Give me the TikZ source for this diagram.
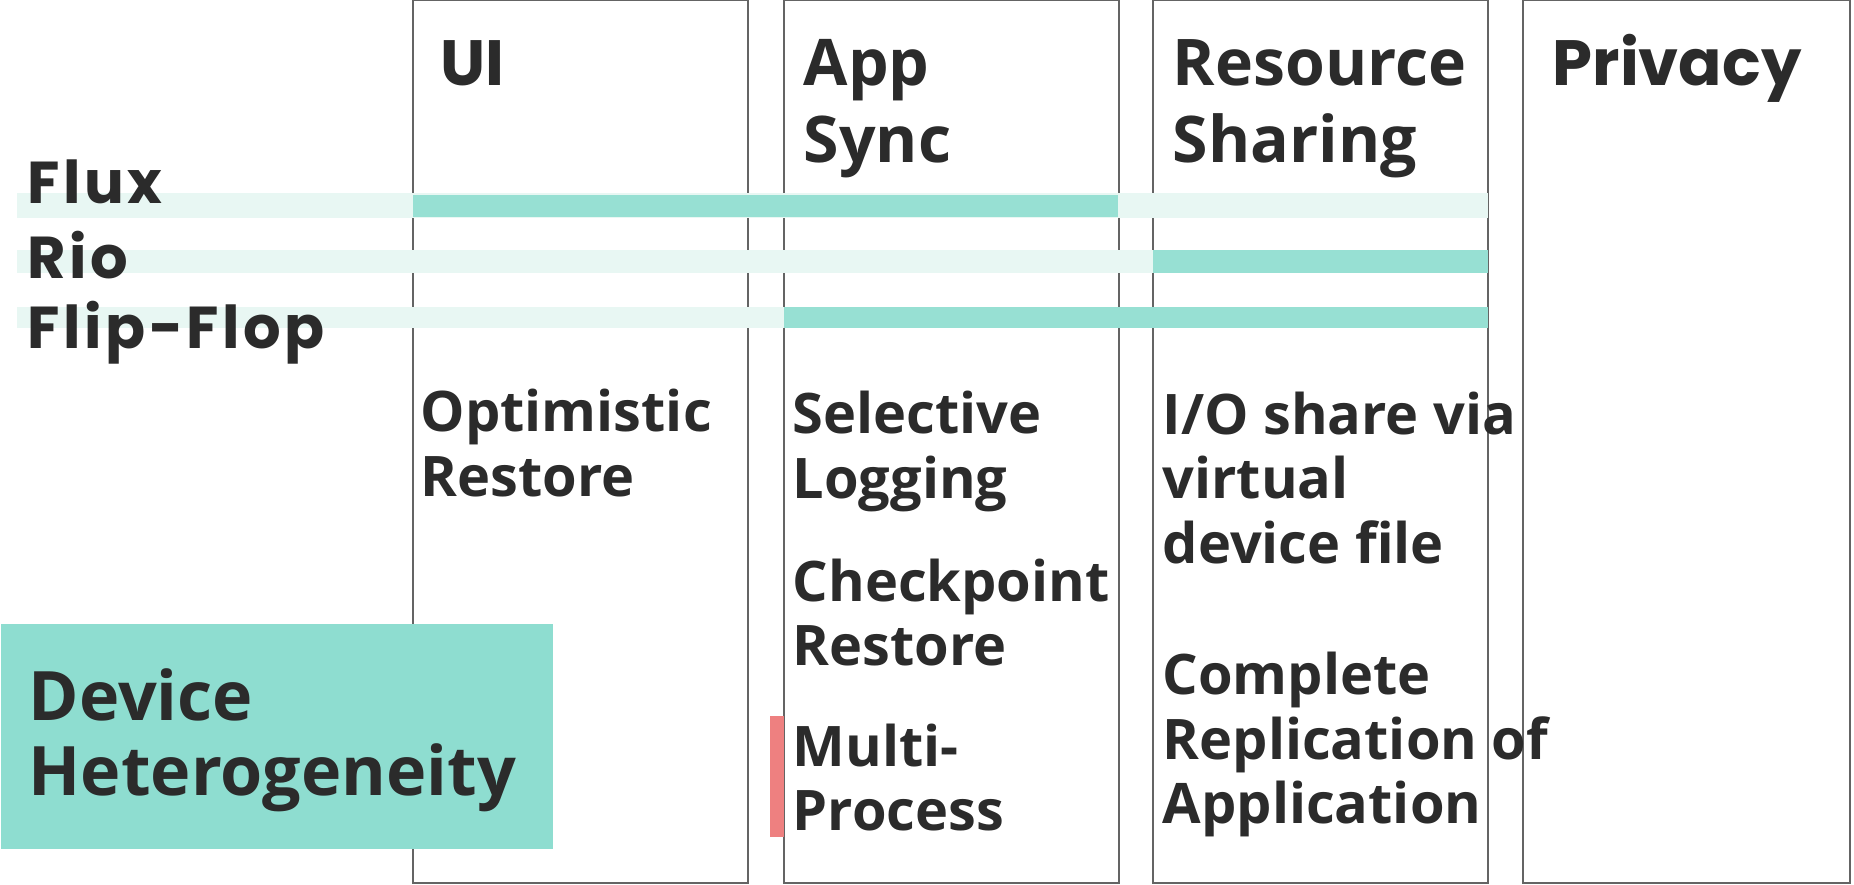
\documentclass[tikz,border=0pt]{standalone}
\usepackage{fontspec}
\setmainfont{Open Sans}
\newfontfamily\geofont{Poppins}
\usepackage{tikz}
\usetikzlibrary{positioning}
\definecolor{tealbar}{RGB}{151,224,211}
\definecolor{tealbox}{RGB}{142,221,208}
\definecolor{tealpale}{RGB}{232,247,243}
\definecolor{redmark}{RGB}{238,128,128}
\definecolor{inkgray}{RGB}{43,43,43}
\definecolor{framegray}{RGB}{100,100,100}

\begin{document}
\begin{tikzpicture}[
      x=0.01cm, y=-0.01cm,
      column/.style={draw=framegray, line width=0.5pt, anchor=north west,
                     inner sep=0pt, outer sep=0pt,
                     minimum width=3.35cm, minimum height=8.82cm},
      hdr/.style={anchor=base west, align=left, inner sep=0pt, text=inkgray,
                  font=\fontsize{18.3}{21.9}\selectfont\bfseries},
      geohdr/.style={anchor=base west, inner sep=0pt, text=inkgray,
                  font=\geofont\fontsize{18.2}{22}\selectfont\bfseries},
      rowlabel/.style={anchor=base west, inner sep=0pt, text=inkgray,
                  font=\geofont\fontsize{16.8}{19}\selectfont\bfseries\addfontfeature{LetterSpace=6}},
      item/.style={anchor=base west, align=left, inner sep=0pt, text=inkgray,
                  font=\fontsize{15.9}{18.2}\selectfont\bfseries},
      devbox/.style={fill=tealbox, anchor=north west, inner sep=0pt,
                  minimum width=5.52cm, minimum height=2.25cm},
    ]
    \useasboundingbox (0,0) rectangle (1854,885);

    % columns
    \node[column] (ui)    at (413,0.5)  {};
    \node[column] (sync)  at (784,0.5)  {};
    \node[column] (share) at (1153,0.5) {};
    \node[column, minimum width=3.27cm] (priv) at (1523,0.5) {};

    % rows: pale band, then the covered span
    \foreach \ya/\yb in {193/218, 250/273, 307/328}
      \fill[tealpale] (17,\ya) rectangle (1488,\yb);
    \fill[tealbar] (413,195)  rectangle (1118,217);
    \fill[tealbar] (1153,250) rectangle (1488,273);
    \fill[tealbar] (784,307)  rectangle (1488,328);

    \node[devbox] (dev) at (0,623) {};
    \fill[redmark] (770,716) rectangle (784,837);

    % headers (anchor = baseline of last line)
    \node[geohdr] (hui)   at (440,86)  {UI};
    \node[hdr]    (hsync) at (803,163) {App\\Sync};
    \node[hdr]   (hshare) at (1172,163) {Resource\\Sharing};
    \node[geohdr] (hpriv) at (1552,86) {Privacy};

    \node[rowlabel] (flux) at (27,204) {Flux};
    \node[rowlabel] (rio)  at (27,278) {Rio};
    \node[rowlabel] (flip) at (27,349) {Flip-Flop};

    \node[item] (optim) at (420,496)  {Optimistic\\Restore};
    \node[item] (selog) at (792,498)  {Selective\\Logging};
    \node[item] (chkpt) at (792,665)  {Checkpoint\\Restore};
    \node[item] (multi) at (792,830)  {Multi-\\Process};
    \node[item] (iosh)  at (1162,563) {I/O share via\\virtual\\device file};
    \node[item] (repl)  at (1162,823) {Complete\\Replication of\\Application};

    \node[anchor=base west, align=left, inner sep=0pt, text=inkgray,
          font=\fontsize{19.4}{21.3}\selectfont\bfseries] (devtxt) at (28,795)
          {Device\\Heterogeneity};
  \end{tikzpicture}
\end{document}
